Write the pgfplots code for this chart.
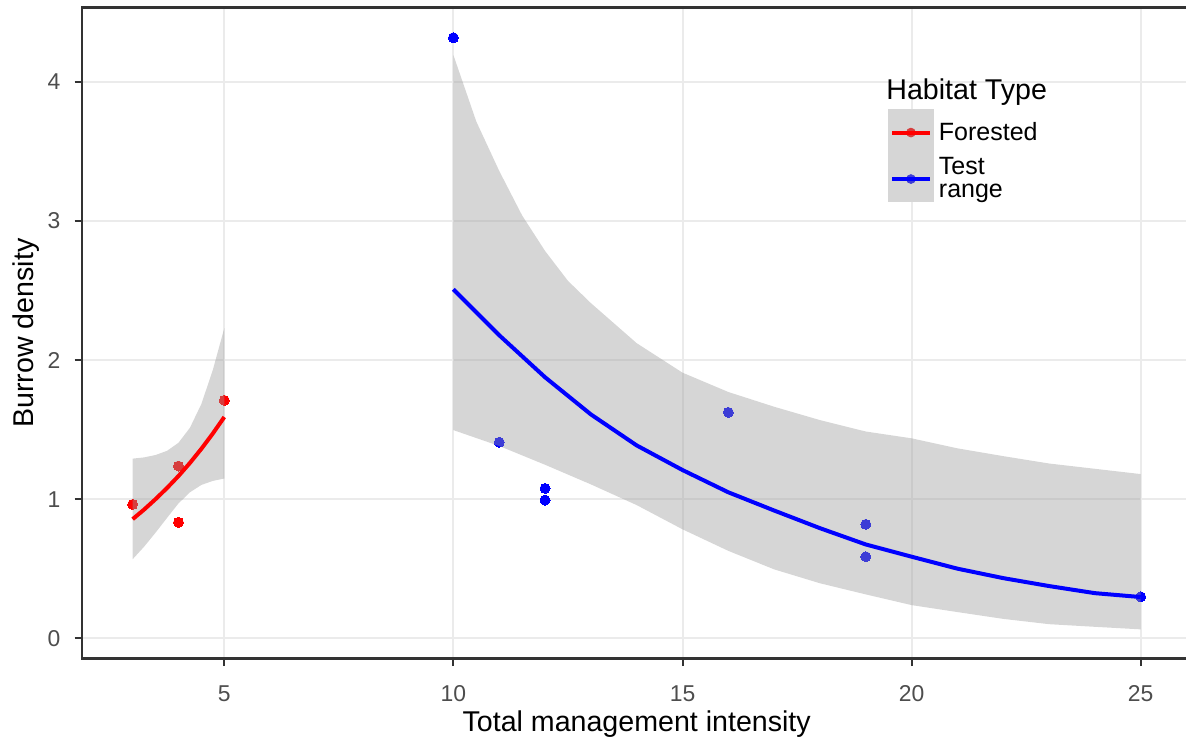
\documentclass[border=0pt]{standalone}
\usepackage{fontspec}
\setmainfont{Liberation Sans}
\usepackage{pgfplots}
\pgfplotsset{compat=1.18}
\definecolor{gridc}{HTML}{EBEBEB}
\definecolor{bord}{HTML}{333333}
\definecolor{tl}{HTML}{4D4D4D}
\definecolor{rib}{HTML}{999999}
\definecolor{ribkey}{HTML}{D6D6D6}
\definecolor{reddim}{RGB}{214,61,61}
\definecolor{bluedim}{RGB}{61,61,214}
\begin{document}
\begin{tikzpicture}
\begin{axis}[
  width=554.4pt, height=325.5pt, scale only axis,
  xmin=1.9, xmax=26.1, ymin=-0.145, ymax=4.535,
  xtick={5,10,15,20,25}, ytick={0,1,2,3,4},
  xtick pos=bottom, ytick pos=left,
  grid=major, major grid style={gridc, line width=1pt},
  axis line style={bord, line width=1.2pt},
  tick style={bord, line width=1pt},
  tick align=outside, major tick length=3.8pt,
  clip marker paths=true,
  /pgf/number format/assume math mode=true,
  ticklabel style={font=\fontsize{11.45}{13}\selectfont, text=tl, inner sep=0pt},
  xticklabel style={anchor=base, yshift=-17.45pt},
  yticklabel style={anchor=east, xshift=-6.9pt},
  xlabel={Total management intensity},
  ylabel={Burrow density},
  label style={font=\fontsize{14.3}{16}\selectfont},
  xlabel style={at={(axis description cs:0.5,-0.1124)}, anchor=base, inner sep=0pt},
  ylabel style={at={(axis description cs:-0.0439,0.5)}, anchor=base, inner sep=0pt},
  legend style={at={(0.7264,0.8436)}, anchor=north west, draw=none, fill=none,
    inner sep=0pt, outer sep=0pt, row sep=0pt, column sep=2.4pt,
    nodes={inner sep=0pt, align=left, font=\fontsize{12.5}{11.2}\selectfont, text=black}},
  legend cell align=left,
]
% points (drawn first, ribbons overlay them)
\addplot[red, only marks, mark=*, mark size=2.5pt, line width=0pt, forget plot]
  coordinates {(3,0.963) (4,1.239) (4,0.834) (5,1.711)};
\addplot[blue, only marks, mark=*, mark size=2.5pt, line width=0pt, forget plot]
  coordinates {(10,4.318) (11,1.410) (12,1.078) (12,0.994) (16,1.625) (19,0.820) (19,0.587) (25,0.299)};
% confidence ribbons
\addplot[draw=none, fill=rib, fill opacity=0.4, forget plot] coordinates {
  (3,1.292) (3.25,1.301) (3.5,1.318) (3.75,1.348) (4,1.406) (4.25,1.514) (4.5,1.685) (4.75,1.93) (5,2.23)
  (5,1.149) (4.75,1.132) (4.5,1.103) (4.25,1.050) (4,0.970) (3.75,0.866) (3.5,0.760) (3.25,0.659) (3,0.569)};
\addplot[draw=none, fill=rib, fill opacity=0.4, forget plot] coordinates {
  (10,4.193) (10.5,3.715) (11,3.36) (11.5,3.04) (12,2.785) (12.5,2.57) (13,2.41) (14,2.122) (15,1.91)
  (16,1.771) (17,1.665) (18,1.569) (19,1.487) (20,1.438) (21,1.366) (22,1.31) (23,1.257) (24,1.219) (25,1.181)
  (25,0.0647) (24,0.083) (23,0.102) (22,0.140) (21,0.189) (20,0.239) (19,0.316) (18,0.396) (17,0.496)
  (16,0.629) (15,0.784) (14,0.958) (13,1.107) (12,1.248) (11,1.383) (10,1.497)};
% fitted lines
\addplot[red, line width=2pt, forget plot] coordinates {
  (3,0.857) (3.25,0.926) (3.5,1.001) (3.75,1.081) (4,1.167) (4.25,1.261) (4.5,1.363) (4.75,1.473) (5,1.591)};
\addplot[blue, line width=2pt, forget plot] coordinates {
  (10,2.509) (11,2.179) (12,1.877) (13,1.610) (14,1.387) (15,1.210) (16,1.050) (17,0.919) (18,0.792)
  (19,0.675) (20,0.587) (21,0.501) (22,0.433) (23,0.376) (24,0.325) (25,0.297)};
% legend
\addlegendimage{legend image code/.code={
  \fill[ribkey] (0pt,-11.42pt) rectangle (22.8pt,11.42pt);
  \fill[reddim] (11.4pt,0pt) circle (2.2pt);
  \draw[red, line width=2pt] (2pt,0pt) -- (20.8pt,0pt);}}
\addlegendentry{Forested}
\addlegendimage{legend image code/.code={
  \fill[ribkey] (0pt,-11.42pt) rectangle (22.8pt,11.42pt);
  \fill[bluedim] (11.4pt,0pt) circle (2.2pt);
  \draw[blue, line width=2pt] (2pt,0pt) -- (20.8pt,0pt);}}
\addlegendentry{Test\\range}
\node[anchor=base west, inner sep=0pt, font=\fontsize{14.3}{16}\selectfont] at (axis cs:19.44,3.875) {Habitat Type};
\coordinate (bbsw) at (axis cs:0.1048,-0.7455);
\coordinate (bbne) at (axis cs:25.988,4.589);
\end{axis}
\pgfresetboundingbox
\path[use as bounding box] (bbsw) rectangle (bbne);
\end{tikzpicture}
\end{document}
